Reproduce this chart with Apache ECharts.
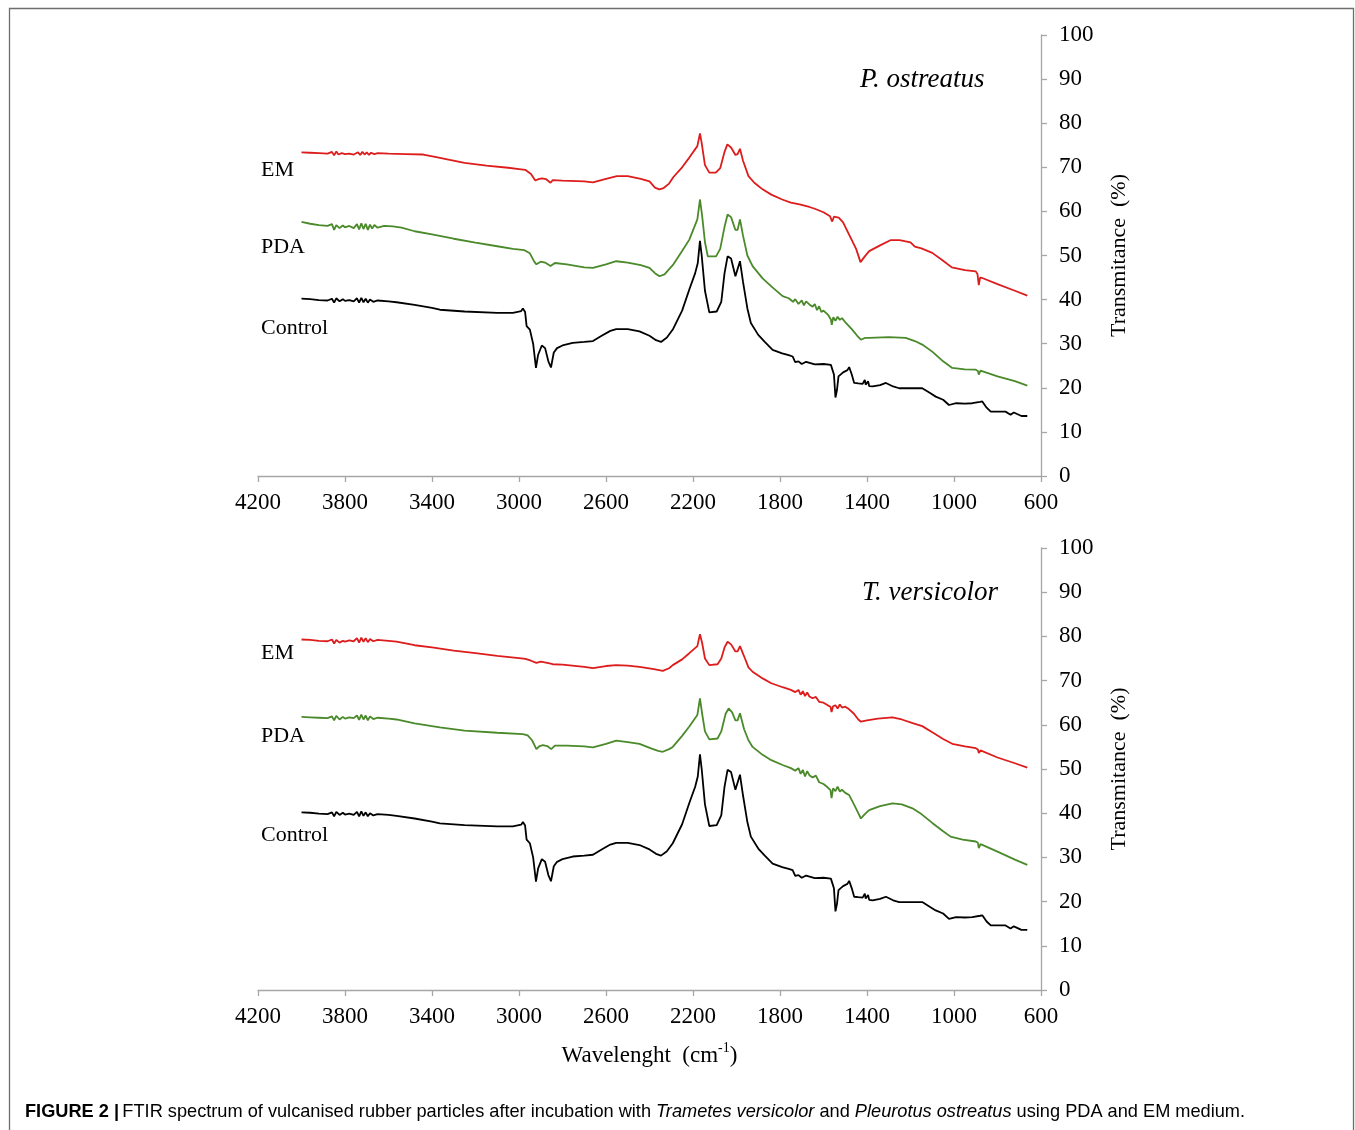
<!DOCTYPE html>
<html>
<head>
<meta charset="utf-8">
<script src="https://cdn.jsdelivr.net/npm/echarts@6/dist/echarts.min.js"></script>
<style>html,body{margin:0;padding:0;background:#fff;}#c{width:1355px;height:1130px;}</style>
</head>
<body>
<div id="c"></div>
<script>
// ---- Data (wavenumber cm-1, transmittance %) ----
const xTicks = [600, 1000, 1400, 1800, 2200, 2600, 3000, 3400, 3800, 4200];

const control = [[4000,40.2],[3960,40.1],[3920,39.9],[3880,39.8],[3860,40.2],[3850,39.3],[3840,40.3],[3825,39.6],[3810,40.1],[3800,39.7],[3780,39.9],[3760,39.6],[3745,40.3],[3735,39.3],[3725,40.4],[3715,39.4],[3705,40.2],[3695,39.3],[3685,40.0],[3670,39.5],[3650,39.8],[3600,39.6],[3563,39.4],[3480,38.8],[3400,38.1],[3364,37.7],[3250,37.3],[3100,37.0],[3028,37.0],[2990,37.4],[2982,38.0],[2972,37.2],[2965,34.0],[2950,33.2],[2935,30.0],[2922,24.5],[2912,27.5],[2895,29.6],[2880,29.0],[2865,26.0],[2853,24.6],[2840,28.0],[2825,29.0],[2800,29.6],[2753,30.2],[2700,30.4],[2660,30.6],[2620,31.8],[2580,32.9],[2553,33.3],[2500,33.3],[2446,32.8],[2400,31.8],[2370,30.8],[2347,30.4],[2320,31.4],[2293,33.2],[2250,37.5],[2217,42.3],[2190,46.0],[2178,48.3],[2168,53.3],[2160,50.0],[2145,42.0],[2125,37.1],[2091,37.3],[2070,39.5],[2055,46.0],[2041,49.8],[2025,49.3],[2005,45.3],[1997,44.9],[1984,48.7],[1970,44.0],[1950,38.0],[1934,34.7],[1900,32.0],[1870,30.4],[1834,28.6],[1790,27.8],[1760,27.4],[1742,27.1],[1730,25.8],[1715,26.0],[1700,25.4],[1680,25.9],[1660,25.6],[1640,25.3],[1600,25.4],[1566,25.2],[1552,23.0],[1545,17.8],[1538,19.5],[1531,22.6],[1510,23.5],[1490,24.0],[1482,24.7],[1470,23.0],[1459,21.1],[1440,21.0],[1420,20.9],[1410,21.8],[1406,20.7],[1395,21.5],[1390,20.4],[1374,20.3],[1340,20.6],[1313,21.1],[1280,20.3],[1252,19.9],[1200,19.9],[1146,19.9],[1110,18.8],[1084,18.0],[1050,17.3],[1023,16.1],[990,16.5],[950,16.4],[916,16.5],[880,16.8],[870,16.9],[850,15.5],[831,14.6],[790,14.6],[763,14.6],[740,13.9],[725,14.4],[717,14.2],[690,13.6],[663,13.6]];

const pOstreatusEM = [[4000,73.4],[3960,73.3],[3920,73.2],[3880,73.1],[3860,73.5],[3850,72.7],[3840,73.6],[3830,72.9],[3815,73.2],[3800,73.0],[3780,73.1],[3760,72.9],[3740,73.4],[3730,72.8],[3720,73.5],[3710,72.9],[3700,73.4],[3690,72.8],[3680,73.3],[3665,73.0],[3650,73.2],[3600,73.1],[3520,73.0],[3440,72.9],[3380,72.3],[3330,71.8],[3250,71.0],[3150,70.4],[3050,69.9],[3000,69.6],[2970,69.4],[2945,68.5],[2925,67.0],[2910,67.3],[2895,67.5],[2875,67.3],[2855,66.5],[2845,67.1],[2800,67.0],[2700,66.8],[2660,66.6],[2600,67.4],[2550,68.0],[2500,68.0],[2440,67.4],[2400,66.8],[2375,65.4],[2355,65.0],[2335,65.3],[2310,66.3],[2290,67.8],[2250,70.0],[2217,72.2],[2180,74.8],[2168,77.7],[2160,75.5],[2145,70.5],[2125,68.8],[2095,68.8],[2075,69.8],[2055,73.5],[2042,75.2],[2025,74.5],[2005,72.8],[1995,73.0],[1984,74.2],[1970,71.5],[1945,68.0],[1918,66.5],[1880,65.0],[1840,63.8],[1790,62.7],[1750,62.0],[1710,61.6],[1665,61.0],[1640,60.6],[1600,59.8],[1570,58.9],[1560,57.7],[1552,58.8],[1530,58.6],[1510,57.5],[1480,54.5],[1450,51.5],[1430,48.5],[1410,49.8],[1390,51.0],[1340,52.3],[1290,53.5],[1250,53.5],[1200,53.0],[1180,52.0],[1150,51.6],[1100,50.6],[1050,48.8],[1010,47.3],[950,46.7],[900,46.4],[892,45.8],[886,43.3],[880,45.0],[870,44.9],[800,43.5],[720,42.0],[663,40.9]];

const pOstreatusPDA = [[4000,57.6],[3960,57.2],[3920,56.9],[3880,56.7],[3860,57.1],[3850,55.8],[3840,56.9],[3825,56.2],[3810,56.8],[3800,56.4],[3780,56.7],[3760,56.2],[3745,57.1],[3735,55.9],[3725,57.3],[3715,56.0],[3705,57.2],[3695,55.8],[3685,57.0],[3675,56.1],[3665,56.9],[3650,56.3],[3620,56.7],[3580,56.6],[3540,56.3],[3480,55.5],[3400,54.8],[3300,53.8],[3200,52.9],[3100,52.1],[3028,51.5],[2975,51.2],[2950,50.5],[2930,48.6],[2920,48.0],[2900,48.6],[2880,48.4],[2855,47.6],[2835,48.3],[2780,48.0],[2700,47.3],[2660,47.2],[2600,48.0],[2553,48.7],[2500,48.4],[2440,47.8],[2400,47.2],[2375,46.0],[2354,45.3],[2331,45.7],[2290,48.0],[2250,51.0],[2217,53.6],[2180,58.2],[2168,62.7],[2158,59.0],[2145,53.0],[2132,49.8],[2094,49.8],[2075,51.5],[2055,56.5],[2041,59.3],[2025,58.7],[2005,55.8],[1995,55.8],[1984,58.2],[1970,54.5],[1950,50.0],[1926,47.6],[1880,44.8],[1840,43.0],[1788,40.8],[1760,40.3],[1740,39.5],[1730,40.1],[1715,39.0],[1700,39.8],[1690,38.7],[1680,39.6],[1665,38.9],[1650,38.4],[1640,39.0],[1630,37.6],[1620,38.5],[1610,37.2],[1600,37.5],[1580,36.6],[1566,35.5],[1562,34.3],[1555,36.0],[1545,35.2],[1535,36.1],[1525,35.4],[1515,35.8],[1497,34.7],[1470,33.3],[1445,31.8],[1428,30.9],[1410,31.3],[1390,31.3],[1300,31.5],[1222,31.3],[1180,30.6],[1146,29.8],[1100,28.2],[1050,26.0],[1008,24.5],[950,24.2],[900,24.1],[890,23.8],[886,23.0],[878,23.9],[870,23.7],[800,22.6],[720,21.5],[663,20.5]];

const tVersicolorEM = [[4000,79.3],[3960,79.2],[3920,79.0],[3880,78.9],[3860,79.3],[3850,78.4],[3840,79.2],[3825,78.6],[3810,79.0],[3800,78.8],[3780,79.1],[3760,78.9],[3745,79.6],[3735,78.6],[3725,79.7],[3715,78.8],[3705,79.6],[3695,78.7],[3685,79.4],[3670,78.9],[3650,79.2],[3600,79.0],[3563,78.8],[3480,78.0],[3400,77.5],[3300,76.8],[3200,76.2],[3100,75.6],[3000,75.1],[2970,74.9],[2945,74.5],[2920,74.0],[2900,74.3],[2870,74.0],[2845,73.7],[2800,73.6],[2700,73.1],[2660,72.8],[2600,73.3],[2553,73.5],[2500,73.4],[2446,73.1],[2380,72.6],[2339,72.2],[2310,72.8],[2293,73.5],[2250,74.8],[2217,76.2],[2180,77.8],[2168,80.5],[2158,78.5],[2145,75.0],[2125,73.5],[2087,73.7],[2070,75.0],[2055,77.5],[2041,78.8],[2025,78.2],[2005,76.6],[1995,76.6],[1984,77.8],[1965,75.5],[1945,73.0],[1926,72.0],[1880,70.5],[1840,69.4],[1788,68.5],[1750,67.9],[1730,67.4],[1715,67.9],[1705,66.8],[1695,67.6],[1685,66.5],[1675,67.3],[1665,66.4],[1650,66.0],[1635,66.3],[1620,65.2],[1600,65.0],[1580,64.4],[1568,64.1],[1563,62.9],[1556,64.2],[1545,64.4],[1535,63.7],[1525,64.6],[1515,63.9],[1500,64.1],[1482,63.5],[1460,62.5],[1440,61.2],[1428,60.7],[1400,61.0],[1350,61.4],[1283,61.7],[1240,61.2],[1190,60.4],[1146,59.7],[1100,58.3],[1050,56.8],[1008,55.7],[950,55.1],[900,54.7],[890,54.4],[886,53.6],[878,54.2],[870,53.9],[800,52.6],[720,51.3],[663,50.3]];

const tVersicolorPDA = [[4000,61.8],[3960,61.7],[3920,61.6],[3880,61.5],[3860,61.9],[3850,61.0],[3840,62.0],[3825,61.2],[3810,61.8],[3800,61.4],[3780,61.7],[3760,61.5],[3745,62.1],[3735,61.1],[3725,62.3],[3715,61.2],[3705,62.1],[3695,61.0],[3685,61.9],[3670,61.3],[3650,61.6],[3600,61.4],[3563,61.2],[3480,60.3],[3400,59.7],[3364,59.4],[3250,58.7],[3100,58.2],[2982,57.9],[2960,57.6],[2940,56.5],[2920,54.5],[2905,55.2],[2890,55.4],[2870,55.2],[2852,54.5],[2835,55.3],[2780,55.3],[2700,55.1],[2660,54.9],[2600,55.7],[2553,56.4],[2500,56.1],[2446,55.7],[2390,54.6],[2360,54.1],[2339,53.9],[2310,54.5],[2293,55.0],[2250,57.5],[2217,59.6],[2180,62.2],[2168,66.0],[2158,62.5],[2145,58.5],[2125,56.7],[2087,56.9],[2070,58.5],[2050,62.5],[2036,63.7],[2020,62.8],[2005,61.0],[1995,61.0],[1984,62.6],[1965,59.0],[1945,56.5],[1926,55.0],[1880,53.2],[1840,52.0],[1788,50.9],[1750,50.2],[1730,49.6],[1715,50.2],[1705,48.9],[1695,49.8],[1685,48.3],[1675,49.5],[1665,48.6],[1650,48.1],[1635,48.5],[1620,47.0],[1600,46.6],[1580,45.8],[1568,45.2],[1563,43.4],[1556,45.6],[1545,45.0],[1535,46.0],[1525,44.9],[1515,45.3],[1500,44.6],[1482,44.1],[1460,42.0],[1440,40.0],[1428,38.8],[1410,39.8],[1390,40.7],[1340,41.6],[1283,42.2],[1240,42.0],[1191,41.1],[1150,39.8],[1100,37.8],[1050,35.9],[1016,34.7],[960,34.0],[900,33.6],[890,33.3],[886,32.1],[878,33.0],[870,32.8],[800,31.3],[720,29.5],[663,28.3]];

const panelTitles = ['P. ostreatus', 'T. versicolor'];
const seriesNames = ['EM', 'PDA', 'Control'];

// ---- Styles ----
const SERIF = '"Liberation Serif", "Times New Roman", serif';
const SANS = '"Liberation Sans", Arial, sans-serif';
const RED = '#dd1c1c', GREEN = '#4a8a2a', BLACK = '#000000';
const AXIS_GREY = '#a6a6a6';

function xAxisCfg(gridIndex, withName) {
  const c = {
    type: 'value', gridIndex: gridIndex, min: 600, max: 4200, inverse: true,
    axisLine: { show: true, onZero: false, lineStyle: { color: AXIS_GREY, width: 1.3 } },
    axisTick: { show: true, length: 6, customValues: xTicks, lineStyle: { color: AXIS_GREY, width: 1.3 } },
    axisLabel: { customValues: xTicks, formatter: function (v) { return String(v); }, fontFamily: SERIF, fontSize: 23, color: '#000', margin: 15 },
    splitLine: { show: false }
  };
  if (withName) {
    c.name = '{a|Wavelenght  (cm}{s|-1}{a|)}';
    c.nameLocation = 'middle';
    c.nameGap = 51;
    c.nameTextStyle = {
      rich: {
        a: { fontFamily: SERIF, fontSize: 23, color: '#000', verticalAlign: 'bottom', lineHeight: 26 },
        s: { fontFamily: SERIF, fontSize: 14, color: '#000', verticalAlign: 'top', lineHeight: 26, padding: [0, 0, 11, 0] }
      }
    };
  }
  return c;
}
function yAxisCfg(gridIndex) {
  return {
    type: 'value', gridIndex: gridIndex, position: 'right', min: 0, max: 100, interval: 10,
    name: 'Transmitance  (%)', nameLocation: 'middle', nameRotate: 90, nameGap: 67,
    nameTextStyle: { fontFamily: SERIF, fontSize: 22, color: '#000' },
    axisLine: { show: true, onZero: false, lineStyle: { color: AXIS_GREY, width: 1.3 } },
    axisTick: { show: true, length: 6, lineStyle: { color: AXIS_GREY, width: 1.3 } },
    axisLabel: { fontFamily: SERIF, fontSize: 23, color: '#000', margin: 18 },
    splitLine: { show: false }
  };
}
function lineSeries(name, data, color, idx) {
  return {
    name: name, type: 'line', data: data, xAxisIndex: idx, yAxisIndex: idx,
    showSymbol: false, symbol: 'none', smooth: false,
    lineStyle: { color: color, width: 1.8 }, itemStyle: { color: color },
    animation: false, silent: true
  };
}
function txt(text, x, yCenter, font) {
  return { type: 'text', x: x, y: yCenter, style: { text: text, fill: '#000', font: font, verticalAlign: 'middle', align: 'left' } };
}

const chart = echarts.init(document.getElementById('c'), null, { renderer: 'canvas' });
chart.setOption({
  backgroundColor: '#ffffff',
  animation: false,
  grid: [
    { left: 258, top: 35, width: 783, height: 441 },
    { left: 258, top: 548, width: 783, height: 442 }
  ],
  xAxis: [xAxisCfg(0, false), xAxisCfg(1, true)],
  yAxis: [yAxisCfg(0), yAxisCfg(1)],
  series: [
    lineSeries(seriesNames[0], pOstreatusEM, RED, 0),
    lineSeries(seriesNames[1], pOstreatusPDA, GREEN, 0),
    lineSeries(seriesNames[2], control, BLACK, 0),
    lineSeries(seriesNames[0], tVersicolorEM, RED, 1),
    lineSeries(seriesNames[1], tVersicolorPDA, GREEN, 1),
    lineSeries(seriesNames[2], control, BLACK, 1)
  ],
  graphic: [
    { type: 'rect', shape: { x: 9.5, y: 8.5, width: 1344, height: 1140 }, style: { fill: 'none', stroke: '#6e6e6e', lineWidth: 1.3 }, z: -1 },
    txt(panelTitles[0], 860, 80, 'italic 27px ' + SERIF),
    txt(panelTitles[1], 862, 593, 'italic 27px ' + SERIF),
    txt(seriesNames[0], 261, 170, '22px ' + SERIF),
    txt(seriesNames[1], 261, 247, '22px ' + SERIF),
    txt(seriesNames[2], 261, 328, '22px ' + SERIF),
    txt(seriesNames[0], 261, 653, '22px ' + SERIF),
    txt(seriesNames[1], 261, 736, '22px ' + SERIF),
    txt(seriesNames[2], 261, 835, '22px ' + SERIF),
    {
      type: 'text', x: 25, y: 1112,
      style: {
        text: '{b|FIGURE 2 |} {n|FTIR spectrum of vulcanised rubber particles after incubation with }{i|Trametes versicolor}{n| and }{i|Pleurotus ostreatus}{n| using PDA and EM medium.}',
        verticalAlign: 'middle',
        rich: {
          b: { font: 'bold 18.2px ' + SANS, fill: '#000' },
          n: { font: '18.2px ' + SANS, fill: '#000' },
          i: { font: 'italic 18.2px ' + SANS, fill: '#000' }
        }
      }
    }
  ]
});
</script>
</body>
</html>
